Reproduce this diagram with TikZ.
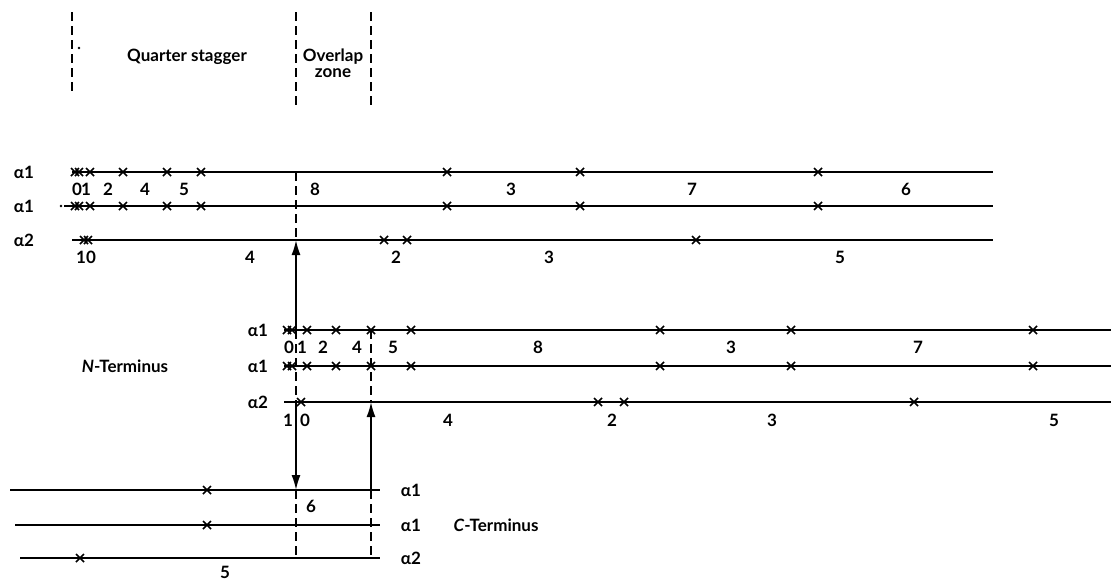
\documentclass[tikz,border=0pt]{standalone}
\usepackage{fontspec}
\setmainfont{Lato}
\usetikzlibrary{arrows.meta}
\tikzset{
  strand/.style={line width=1.7pt},
  zoneline/.style={line width=1.6pt, dash pattern=on 9pt off 5pt},
  arr/.style={line width=1.7pt,-{Latex[length=15pt,width=9pt]}},
  lbl/.style={font=\bfseries\fontsize{17}{19}\selectfont, inner sep=0pt},
  xm/.pic={\draw[line width=1.6pt] (-4,-4)--(4,4) (-4,4)--(4,-4);}
}
\begin{document}
\begin{tikzpicture}[x=1pt,y=-1pt]
\useasboundingbox (0,0) rectangle (1111,581);

% header zone lines
\coordinate (qs-t) at (72,12); \coordinate (qs-b) at (72,92);
\coordinate (ol-t) at (296,12); \coordinate (ol-b) at (296,108);
\coordinate (or-t) at (371,12); \coordinate (or-b) at (371,108);
\draw[zoneline] (qs-t) -- (qs-b);
\draw[zoneline] (ol-t) -- (ol-b);
\draw[zoneline] (or-t) -- (or-b);
\fill (79,48) circle (1.3pt);
\node[lbl] (quarter) at (187,57) {Quarter stagger};
\node[lbl] (overlap) at (333,57) {Overlap};
\node[lbl] (zone) at (333,73) {zone};

% ---------- top assembly ----------
\node[lbl] (la1) at (24,172) {α1};
\node[lbl] (la2) at (24,206) {α1};
\node[lbl] (la3) at (24,240) {α2};

\coordinate (a1s) at (72,172); \coordinate (a1e) at (993,172);
\coordinate (a2s) at (64,206); \coordinate (a2e) at (993,206);
\coordinate (a3s) at (72,240); \coordinate (a3e) at (993,240);
\draw[strand] (a1s) -- (a1e);
\draw[strand] (a2s) -- (a2e);
\fill (61,206) circle (1.3pt);
\draw[strand] (a3s) -- (a3e);

\foreach \x in {75,79,90,123,167,201,447,580,818} {
  \pic at (\x,172) {xm};
  \pic at (\x,206) {xm};
}
\foreach \x in {84,88,384,407,696} \pic at (\x,240) {xm};

\foreach \x/\t in {77/0,86/1,108/2,145/4,184/5,315/8,511/3,692/7,906/6}
  \node[lbl] at (\x,189) {\t};
\foreach \x/\t in {86/10,250/4,396/2,549/3,840/5}
  \node[lbl] at (\x,257) {\t};

% ---------- middle assembly ----------
\node[lbl] (lb1) at (258,330) {α1};
\node[lbl] (lb2) at (258,366) {α1};
\node[lbl] (lb3) at (258,402) {α2};
\node[lbl] (nterm) at (125,366) {\textit{N}-Terminus};

\coordinate (b1s) at (284,330); \coordinate (b1e) at (1111,330);
\coordinate (b2s) at (284,366); \coordinate (b2e) at (1111,366);
\coordinate (b3s) at (284,402); \coordinate (b3e) at (1111,402);
\draw[strand] (b1s) -- (b1e);
\draw[strand] (b2s) -- (b2e);
\draw[strand] (b3s) -- (b3e);

\foreach \x in {287,292,307,336,371,411,660,791,1033} {
  \pic at (\x,330) {xm};
  \pic at (\x,366) {xm};
}
\foreach \x in {301,598,624,914} \pic at (\x,402) {xm};

\foreach \x/\t in {289/0,302/1,323/2,357/4,393/5,538/8,731/3,918/7}
  \node[lbl] at (\x,347) {\t};
\foreach \x/\t in {288/1,305/0,448/4,612/2,772/3,1054/5}
  \node[lbl] at (\x,420) {\t};

% ---------- bottom assembly ----------
\node[lbl] (lc1) at (411,490) {α1};
\node[lbl] (lc2) at (411,525) {α1};
\node[lbl] (lc3) at (411,558) {α2};
\node[lbl] (cterm) at (496,525) {\textit{C}-Terminus};

\coordinate (c1s) at (10,490); \coordinate (c1e) at (380,490);
\coordinate (c2s) at (15,525); \coordinate (c2e) at (380,525);
\coordinate (c3s) at (20,558); \coordinate (c3e) at (380,558);
\draw[strand] (c1s) -- (c1e);
\draw[strand] (c2s) -- (c2e);
\draw[strand] (c3s) -- (c3e);
\pic at (207,490) {xm};
\pic at (207,525) {xm};
\pic at (80,558) {xm};
\node[lbl] at (311,506) {6};
\node[lbl] at (225,572) {5};

% ---------- register lines and arrows ----------
\coordinate (p-a1) at (296,172);
\coordinate (p-a3) at (296,240);
\coordinate (p-b1) at (296,330);
\coordinate (p-b3) at (296,402);
\coordinate (p-c1) at (296,490);
\coordinate (p-c3) at (296,558);
\coordinate (q-b1) at (371,330);
\coordinate (q-b3) at (371,402);
\coordinate (q-c1) at (371,490);
\coordinate (q-c3) at (371,558);

\draw[zoneline] (p-a1) -- (p-a3);
\draw[arr] (p-b1) -- (p-a3);
\draw[zoneline] (p-b1) -- (p-b3);
\draw[arr] (p-b3) -- (p-c1);
\draw[zoneline] (p-c1) -- (p-c3);
\draw[zoneline] (q-b1) -- (q-b3);
\draw[arr] (q-c1) -- (q-b3);
\draw[zoneline] (q-c1) -- (q-c3);
\end{tikzpicture}
\end{document}
